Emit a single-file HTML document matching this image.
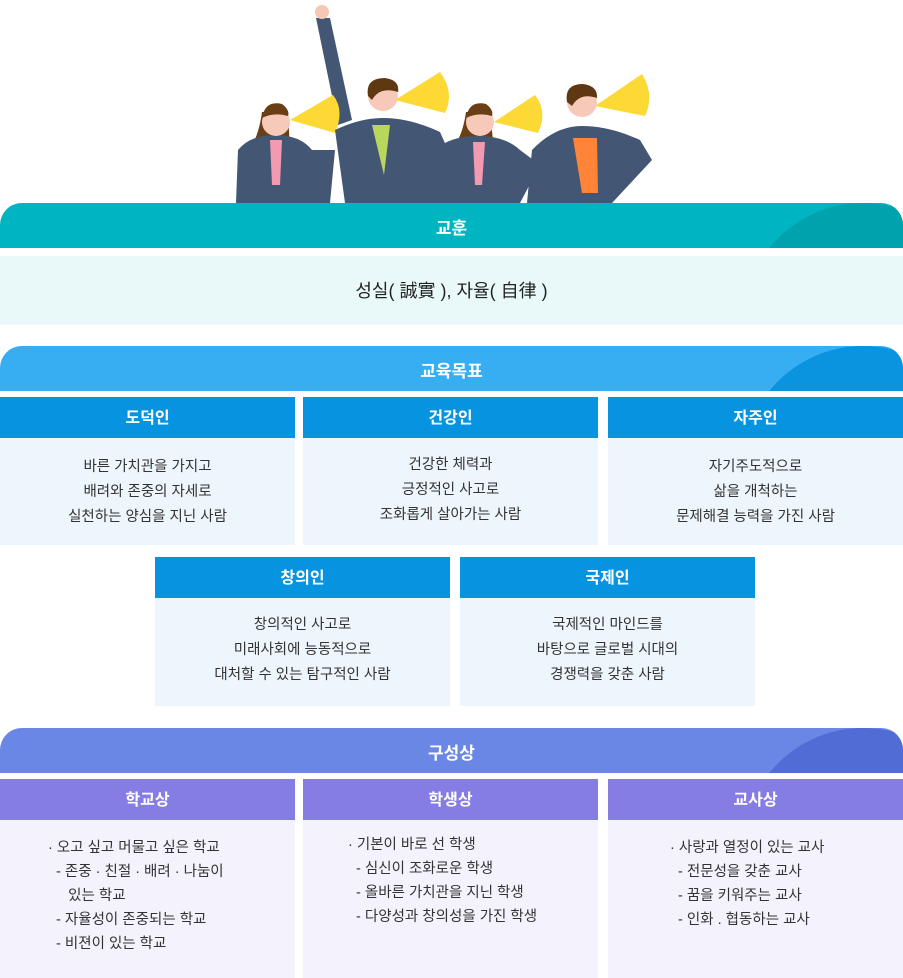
<!DOCTYPE html>
<html><head><meta charset="utf-8"><style>
*{margin:0;padding:0;box-sizing:border-box}
body{width:903px;height:978px;background:#fff;font-family:"Liberation Sans","Noto Sans CJK KR",sans-serif;position:relative;overflow:hidden;color:#222}
.a{position:absolute}
.ban{position:absolute;left:0;width:903px;height:45px;border-radius:22px 22px 0 0;overflow:hidden;color:#fff;font-weight:bold;font-size:17px;text-align:center;line-height:51px}
.ban i{position:absolute;right:-80px;top:0px;width:240px;height:240px;border-radius:50%}
.ban span{position:relative}
.h{position:absolute;height:41px;color:#fff;font-weight:bold;font-size:16px;text-align:center;line-height:43px}
.b{position:absolute;font-size:14.5px;line-height:25px;text-align:center;color:#333}
.l{text-align:left}
</style></head><body>
<svg class="a" style="left:0;top:0" width="903" height="210" viewBox="0 0 903 210">
<g stroke="none">
<path d="M316 18 L330 18 L352 120 L338 125 Z" fill="#435673"/>
<circle cx="322" cy="12" r="7" fill="#f7c6b5"/>
<path d="M262 112 Q258 140 248 150 L290 150 L288 112 Z" fill="#6b3f16"/>
<path d="M238 150 Q250 135 275 135 Q300 135 312 150 L335 150 L330 203 L236 203 Z" fill="#435673"/>
<path d="M270 140 L282 140 L280 185 L272 185 Z" fill="#f39ab0"/>
<circle cx="276" cy="122" r="14" fill="#f7c9b8"/>
<path d="M262 118 Q265 100 282 104 Q290 110 288 116 Q274 112 262 118Z" fill="#6b3f16"/>
<path d="M290 120 L333 95 Q345 110 335 133 Z" fill="#fcd935"/>
<path d="M335 130 Q360 118 383 118 Q410 118 440 132 L448 150 L440 203 L345 203 Z" fill="#435673"/>
<path d="M372 125 L390 125 L384 175 Z" fill="#b7d85a"/>
<circle cx="383" cy="96" r="15" fill="#f7c9b8"/>
<path d="M368 96 Q365 78 385 78 Q400 80 398 92 Q380 86 372 100Z" fill="#5e3812"/>
<path d="M395 100 L440 72 Q455 92 445 113 Z" fill="#fcd935"/>
<path d="M466 112 Q462 140 450 150 L494 150 L490 112 Z" fill="#6b3f16"/>
<path d="M435 150 Q450 136 478 136 Q505 136 520 150 L540 165 L520 203 L432 203 Z" fill="#435673"/>
<path d="M473 142 L485 142 L482 185 L475 185 Z" fill="#f39ab0"/>
<circle cx="480" cy="122" r="14" fill="#f7c9b8"/>
<path d="M466 118 Q469 100 486 104 Q494 110 492 116 Q478 112 466 118Z" fill="#6b3f16"/>
<path d="M494 122 L535 95 Q548 112 538 133 Z" fill="#fcd935"/>
<path d="M532 150 Q555 126 582 126 Q610 126 640 140 L652 160 L612 203 L527 203 Z" fill="#435673"/>
<path d="M573 138 L597 138 L598 193 L582 193 Z" fill="#ff8438"/>
<circle cx="582" cy="102" r="15" fill="#f7c9b8"/>
<path d="M567 102 Q564 84 583 84 Q598 86 597 98 Q580 92 572 106Z" fill="#5e3812"/>
<path d="M595 106 L642 74 Q655 95 645 116 Z" fill="#fcd935"/>
</g></svg>

<div class="ban" style="top:203px;background:#00b4c2"><i style="background:#00a2ad"></i><span>교훈</span></div>
<div class="a" style="left:0;top:256px;width:903px;height:69px;background:#e9f9f9;text-align:center;line-height:70px;font-size:18px;color:#222">성실( 誠實 ), 자율( 自律 )</div>

<div class="ban" style="top:346px;background:#38aef2"><i style="background:#0a94e0"></i><span>교육목표</span></div>
<div class="h" style="left:0;top:397px;width:295px;background:#0694e0">도덕인</div>
<div class="h" style="left:303px;top:397px;width:295px;background:#0694e0">건강인</div>
<div class="h" style="left:608px;top:397px;width:295px;background:#0694e0">자주인</div>
<div class="b" style="left:0;top:438px;width:295px;height:107px;background:#eef6fd;padding-top:17px">바른 가치관을 가지고<br>배려와 존중의 자세로<br>실천하는 양심을 지닌 사람</div>
<div class="b" style="left:303px;top:438px;width:295px;height:107px;background:#eef6fd;padding-top:15px">건강한 체력과<br>긍정적인 사고로<br>조화롭게 살아가는 사람</div>
<div class="b" style="left:608px;top:438px;width:295px;height:107px;background:#eef6fd;padding-top:17px">자기주도적으로<br>삶을 개척하는<br>문제해결 능력을 가진 사람</div>
<div class="h" style="left:155px;top:557px;width:295px;background:#0694e0">창의인</div>
<div class="h" style="left:460px;top:557px;width:295px;background:#0694e0">국제인</div>
<div class="b" style="left:155px;top:598px;width:295px;height:108px;background:#eef6fd;padding-top:15px">창의적인 사고로<br>미래사회에 능동적으로<br>대처할 수 있는 탐구적인 사람</div>
<div class="b" style="left:460px;top:598px;width:295px;height:108px;background:#eef6fd;padding-top:15px">국제적인 마인드를<br>바탕으로 글로벌 시대의<br>경쟁력을 갖춘 사람</div>

<div class="ban" style="top:728px;background:#6a87e6"><i style="background:#4f6dd5"></i><span>구성상</span></div>
<div class="h" style="left:0;top:779px;width:295px;background:#857ce4">학교상</div>
<div class="h" style="left:303px;top:779px;width:295px;background:#857ce4">학생상</div>
<div class="h" style="left:608px;top:779px;width:295px;background:#857ce4">교사상</div>
<div class="a" style="left:0;top:820px;width:295px;height:158px;background:#f4f3fd"></div>
<div class="a" style="left:303px;top:820px;width:295px;height:158px;background:#f4f3fd"></div>
<div class="a" style="left:608px;top:820px;width:295px;height:158px;background:#f4f3fd"></div>
<div class="b l" style="left:48px;top:836px;width:240px;line-height:24px">· 오고 싶고 머물고 싶은 학교<br>&nbsp;&nbsp;- 존중 · 친절 · 배려 · 나눔이<br>&nbsp;&nbsp;&nbsp;&nbsp;&nbsp;있는 학교<br>&nbsp;&nbsp;- 자율성이 존중되는 학교<br>&nbsp;&nbsp;- 비젼이 있는 학교</div>
<div class="b l" style="left:348px;top:833px;width:245px;line-height:24px">· 기본이 바로 선 학생<br>&nbsp;&nbsp;- 심신이 조화로운 학생<br>&nbsp;&nbsp;- 올바른 가치관을 지닌 학생<br>&nbsp;&nbsp;- 다양성과 창의성을 가진 학생</div>
<div class="b l" style="left:670px;top:836px;width:230px;line-height:24px">· 사랑과 열정이 있는 교사<br>&nbsp;&nbsp;- 전문성을 갖춘 교사<br>&nbsp;&nbsp;- 꿈을 키워주는 교사<br>&nbsp;&nbsp;- 인화 . 협동하는 교사</div>
</body></html>
